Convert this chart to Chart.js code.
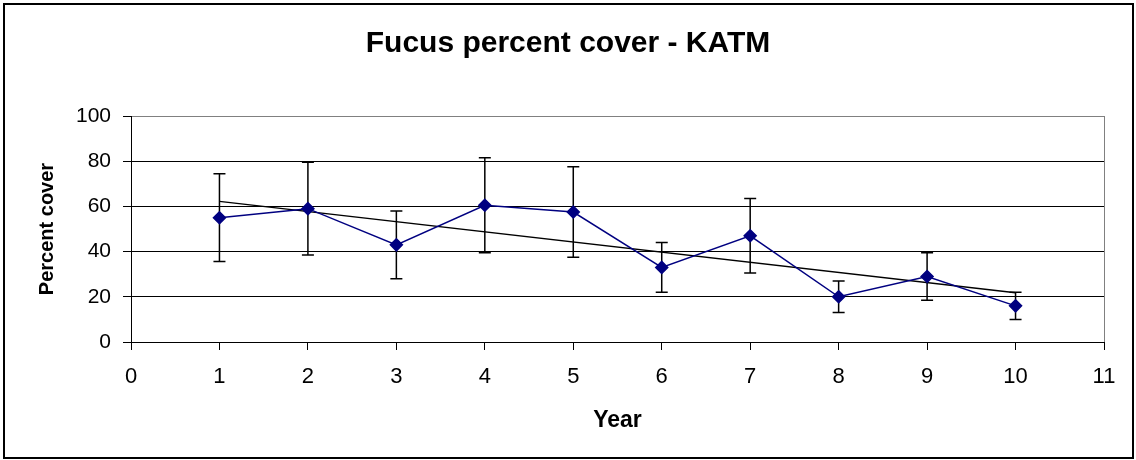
<!DOCTYPE html>
<html>
<head>
<meta charset="utf-8">
<script src="https://cdn.jsdelivr.net/npm/chart.js@4.4.1/dist/chart.umd.min.js"></script>
<style>
  html, body { margin: 0; padding: 0; background: #fff; }
  #wrap { width: 1136px; height: 460px; }
</style>
</head>
<body>
<div id="wrap"><canvas id="fucusChart"></canvas></div>
<script>
const years = [1, 2, 3, 4, 5, 6, 7, 8, 9, 10];
const cover = [55, 59, 43, 60.5, 57.5, 33, 47, 20, 29, 16];
const coverErr = [19.4, 20.5, 15, 21, 20, 11, 16.5, 7, 10.5, 6];
const xRange = [0, 11];
const yRange = [0, 100];

// least squares trend of cover against year
function linearTrend(xs, ys) {
  const n = xs.length;
  const mx = xs.reduce((a, b) => a + b, 0) / n;
  const my = ys.reduce((a, b) => a + b, 0) / n;
  let sxy = 0, sxx = 0;
  for (let i = 0; i < n; i++) {
    sxy += (xs[i] - mx) * (ys[i] - my);
    sxx += (xs[i] - mx) * (xs[i] - mx);
  }
  const slope = sxy / sxx;
  const first = xs[0], last = xs[n - 1];
  return [
    {x: first, y: my + slope * (first - mx)},
    {x: last, y: my + slope * (last - mx)}
  ];
}

const frame = {
  id: 'frame',
  beforeDraw(chart) {
    const ctx = chart.ctx;
    ctx.save();
    ctx.fillStyle = '#fff';
    ctx.fillRect(0, 0, chart.width, chart.height);
    ctx.strokeStyle = '#000';
    ctx.lineWidth = 2;
    ctx.strokeRect(4, 4, chart.width - 7, chart.height - 6);
    ctx.restore();
  },
  beforeDatasetsDraw(chart) {
    const {ctx, chartArea} = chart;
    ctx.save();
    ctx.strokeStyle = '#808080';
    ctx.lineWidth = 1;
    ctx.beginPath();
    ctx.moveTo(chartArea.right + 0.5, chartArea.top);
    ctx.lineTo(chartArea.right + 0.5, chartArea.bottom);
    ctx.stroke();
    ctx.restore();
  }
};

const errorBars = {
  id: 'errorBars',
  beforeDatasetsDraw(chart) {
    const {ctx, scales: {x, y}} = chart;
    ctx.save();
    ctx.strokeStyle = '#000';
    ctx.lineWidth = 1.5;
    years.forEach((yr, i) => {
      const px = x.getPixelForValue(yr);
      const top = y.getPixelForValue(cover[i] + coverErr[i]);
      const bot = y.getPixelForValue(cover[i] - coverErr[i]);
      ctx.beginPath();
      ctx.moveTo(px, top);
      ctx.lineTo(px, bot);
      ctx.moveTo(px - 6, top);
      ctx.lineTo(px + 6, top);
      ctx.moveTo(px - 6, bot);
      ctx.lineTo(px + 6, bot);
      ctx.stroke();
    });
    ctx.restore();
  }
};

new Chart(document.getElementById('fucusChart'), {
  type: 'line',
  data: {
    datasets: [{
      label: 'Percent cover',
      data: years.map((yr, i) => ({x: yr, y: cover[i]})),
      borderColor: '#000080',
      backgroundColor: '#000080',
      borderWidth: 1.5,
      pointStyle: 'rectRot',
      pointRadius: 6,
      pointHoverRadius: 6,
      tension: 0
    }, {
      label: 'Trend',
      data: linearTrend(years, cover),
      borderColor: '#000',
      borderWidth: 1.3,
      pointRadius: 0,
      tension: 0
    }]
  },
  options: {
    responsive: true,
    maintainAspectRatio: false,
    animation: false,
    layout: { padding: 0 },
    plugins: {
      legend: { display: false },
      tooltip: { enabled: false },
      title: {
        display: true,
        text: 'Fucus percent cover - KATM',
        color: '#000',
        font: { family: 'Liberation Sans, Arial, sans-serif', size: 30, weight: 'bold' },
        padding: { top: 26, bottom: 54 }
      }
    },
    scales: {
      x: {
        type: 'linear',
        min: xRange[0],
        max: xRange[1],
        ticks: {
          stepSize: 1,
          color: '#000',
          maxRotation: 0,
          padding: 14,
          font: { family: 'Liberation Sans, Arial, sans-serif', size: 22 }
        },
        grid: { drawOnChartArea: false, drawTicks: true, tickLength: 8, color: '#000' },
        border: { color: '#000', width: 1 },
        title: {
          display: true,
          text: 'Year',
          color: '#000',
          font: { family: 'Liberation Sans, Arial, sans-serif', size: 23, weight: 'bold' },
          padding: { top: 0, bottom: 26 }
        },
        afterFit(scale) { scale.height = 118; }
      },
      y: {
        min: yRange[0],
        max: yRange[1],
        ticks: {
          stepSize: 20,
          color: '#000',
          padding: 12,
          font: { family: 'Liberation Sans, Arial, sans-serif', size: 21 }
        },
        grid: {
          color: ctx => ctx.tick && ctx.tick.value === 100 ? '#808080' : '#000',
          tickColor: '#000',
          tickLength: 8,
          lineWidth: 1
        },
        border: { color: '#000', width: 1 },
        title: {
          display: true,
          text: 'Percent cover',
          color: '#000',
          font: { family: 'Liberation Sans, Arial, sans-serif', size: 20, weight: 'bold' },
          padding: { top: 35, bottom: 0 }
        },
        afterFit(scale) { scale.width = 131; }
      },
      // empty right-hand strip so the plot ends where the reference does
      yRight: {
        position: 'right',
        display: true,
        grid: { display: false },
        ticks: { display: false },
        border: { display: false },
        afterFit(scale) { scale.width = 32; }
      }
    }
  },
  plugins: [frame, errorBars]
});
</script>
</body>
</html>
